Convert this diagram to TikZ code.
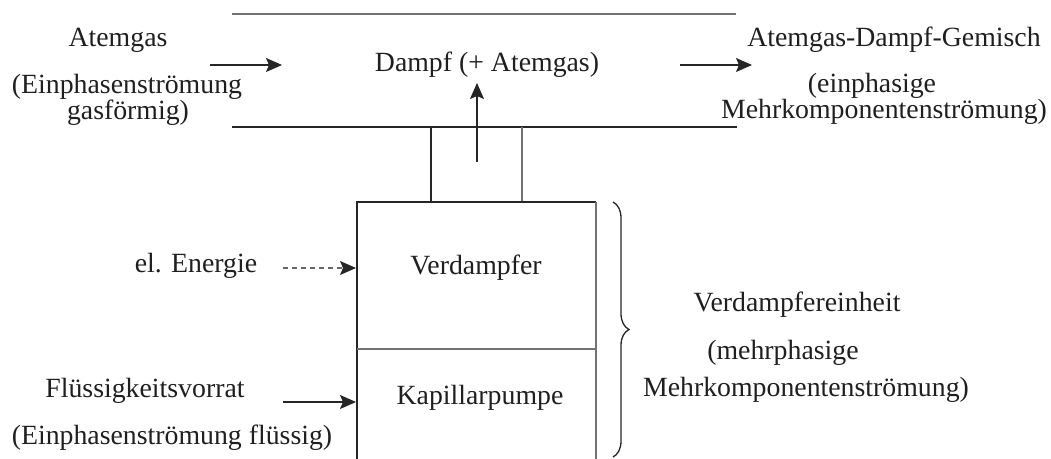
\documentclass[tikz,border=0pt]{standalone}
\usepackage{fontspec}
\setmainfont{Liberation Serif}
\usetikzlibrary{arrows.meta,decorations.pathreplacing}
\tikzset{
  lbl/.style={anchor=base,inner sep=0pt,font=\fontsize{13.9}{16}\selectfont,text=black!88},
  wall/.style={line width=0.6pt,draw=black!85},
  wallgray/.style={line width=0.6pt,draw=black!55},
  flow/.style={line width=0.6pt,draw=black!85,-{Stealth[length=8pt,width=7pt,inset=1.5pt]}},
  energyflow/.style={line width=0.6pt,draw=black!60,dash pattern=on 2.5pt off 2pt,-{Stealth[length=8pt,width=7pt,inset=1.5pt,color=black!85,fill=black!85]}},
  bracestyle/.style={line width=0.65pt,draw=black!85,decorate,decoration={brace,amplitude=8pt}}
}
\begin{document}
\begin{tikzpicture}[x=0.5pt,y=-0.5pt]
\useasboundingbox (0,0) rectangle (1051,459);

% channel walls
\draw[wallgray] (232,14) -- (736,14);
\draw[wall] (232,127) -- (737,127);
% tube
\draw[wall] (431,127) -- (431,202);
\draw[wallgray] (522,127) -- (522,202);
% evaporator unit box (open at the bottom)
\draw[wall] (357,459) -- (357,202) -- (596,202);
\draw[wallgray] (596,202) -- (596,459);
\draw[wallgray] (357,349) -- (596,349);

% labels
\node[lbl] (atemgas) at (118,47) {Atemgas};
\node[lbl] (atemgasA) at (127,94) {(Einphasenströmung};
\node[lbl] (atemgasB) at (128,120) {gasförmig)};
\node[lbl] (dampf) at (487,72) {Dampf (+ Atemgas)};
\node[lbl] (gemisch) at (894,47) {Atemgas-Dampf-Gemisch};
\node[lbl] (gemischA) at (872,93) {(einphasige};
\node[lbl] (gemischB) at (884,119) {Mehrkomponentenströmung)};
\node[lbl] (energie) at (196,273) {el. Energie};
\node[lbl] (verd) at (476,275) {Verdampfer};
\node[lbl] (fluess) at (145,398) {Flüssigkeitsvorrat};
\node[lbl] (fluessA) at (172,445) {(Einphasenströmung flüssig)};
\node[lbl] (kap) at (480,405) {Kapillarpumpe};
\node[lbl] (einheit) at (797,312) {Verdampfereinheit};
\node[lbl] (einheitA) at (783,360) {(mehrphasige};
\node[lbl] (einheitB) at (806,397) {Mehrkomponentenströmung)};

% connector end points
\coordinate (inS) at (210,65);
\coordinate (inE) at (282,65);
\coordinate (outS) at (680,65);
\coordinate (outE) at (752,65);
\coordinate (upS) at (477,162);
\coordinate (upE) at (477,83);
\coordinate (enS) at (283,268);
\coordinate (enE) at (356,268);
\coordinate (liS) at (283,402);
\coordinate (liE) at (356,402);
\coordinate (brT) at (613,202);
\coordinate (brB) at (613,457);

% connectors
\draw[flow] (inS) -- (inE);
\draw[flow] (outS) -- (outE);
\draw[flow] (upS) -- (upE);
\draw[energyflow] (enS) -- (enE);
\draw[flow] (liS) -- (liE);
\draw[bracestyle] (brT) -- (brB);
\end{tikzpicture}
\end{document}
